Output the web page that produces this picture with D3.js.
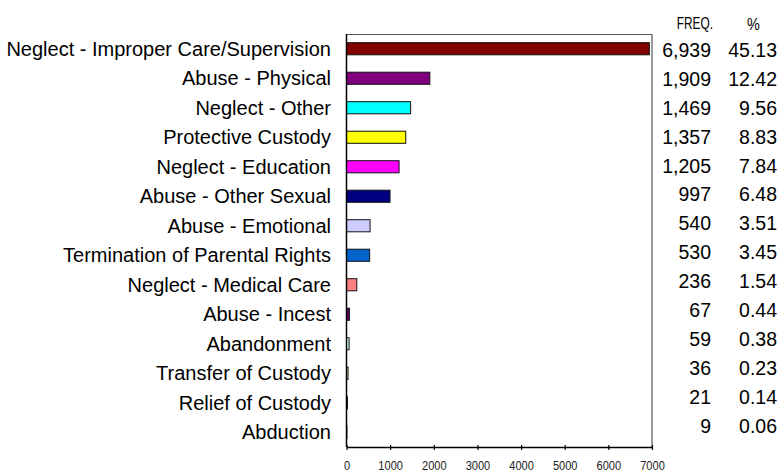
<!DOCTYPE html>
<html>
<head>
<meta charset="utf-8">
<script src="https://cdn.jsdelivr.net/npm/d3@7"></script>
<style>
  html, body { margin: 0; padding: 0; background: #fff; }
  svg { display: block; }
  svg text { font-family: Arial, "Liberation Sans", Arimo, Helvetica, sans-serif; }
</style>
</head>
<body>
<svg id="chart" width="780" height="472"></svg>
<script>
// Reasons for removal, count of children and share of total
const categories = [
  "Neglect - Improper Care/Supervision",
  "Abuse - Physical",
  "Neglect - Other",
  "Protective Custody",
  "Neglect - Education",
  "Abuse - Other Sexual",
  "Abuse - Emotional",
  "Termination of Parental Rights",
  "Neglect - Medical Care",
  "Abuse - Incest",
  "Abandonment",
  "Transfer of Custody",
  "Relief of Custody",
  "Abduction"
];
const frequencies = [6939, 1909, 1469, 1357, 1205, 997, 540, 530, 236, 67, 59, 36, 21, 9];
const percents = [45.13, 12.42, 9.56, 8.83, 7.84, 6.48, 3.51, 3.45, 1.54, 0.44, 0.38, 0.23, 0.14, 0.06];
const barColors = [
  "#800000", "#800080", "#00ffff", "#ffff00", "#ff00ff", "#000080", "#ccccff",
  "#0066cc", "#ff8080", "#660066", "#ccffff", "#ffffcc", "#993366", "#9999ff"
];
const xTicks = [0, 1000, 2000, 3000, 4000, 5000, 6000, 7000];

const FONT = "Arial, 'Liberation Sans', Arimo, Helvetica, sans-serif";
const svg = d3.select("#chart");
const plot = { left: 346.5, right: 652, top: 34, bottom: 447 };

const x = d3.scaleLinear().domain([0, 7000]).range([plot.left, plot.right]);
const y = d3.scaleBand().domain(categories)
  .range([plot.top, plot.bottom])
  .paddingInner(0.59).paddingOuter(0.295);

// frame: top and right edges of the plot area
svg.append("line")
  .attr("x1", plot.left).attr("x2", plot.right)
  .attr("y1", plot.top + 0.5).attr("y2", plot.top + 0.5)
  .attr("stroke", "#555").attr("stroke-width", 1.2);
svg.append("line")
  .attr("x1", plot.right).attr("x2", plot.right)
  .attr("y1", plot.top).attr("y2", plot.bottom)
  .attr("stroke", "#777").attr("stroke-width", 1.5);

// bars
svg.append("g").selectAll("rect")
  .data(categories)
  .join("rect")
  .attr("x", x(0))
  .attr("y", d => y(d))
  .attr("width", (d, i) => x(frequencies[i]) - x(0))
  .attr("height", y.bandwidth())
  .attr("fill", (d, i) => barColors[i])
  .attr("stroke", "#111")
  .attr("stroke-width", 1);

// category axis line
svg.append("line")
  .attr("x1", plot.left).attr("x2", plot.left)
  .attr("y1", plot.top).attr("y2", plot.bottom)
  .attr("stroke", "#000").attr("stroke-width", 1.5);

// category labels
svg.append("g").selectAll("text")
  .data(categories)
  .join("text")
  .attr("x", 331)
  .attr("y", d => y(d) + y.bandwidth() / 2)
  .attr("dy", "0.36em")
  .attr("text-anchor", "end")
  .attr("font-family", FONT)
  .attr("font-size", "20px")
  .attr("fill", "#000")
  .text(d => d);

// value axis at the bottom
const xAxis = d3.axisBottom(x)
  .tickValues(xTicks)
  .tickFormat(d3.format("d"))
  .tickSizeInner(3)
  .tickSizeOuter(0);
const gx = svg.append("g")
  .attr("transform", `translate(0,${plot.bottom})`)
  .call(xAxis);
gx.select(".domain").attr("stroke", "#000").attr("stroke-width", 1.5);
gx.selectAll(".tick line").attr("stroke", "#000").attr("y1", -2).attr("stroke-width", 1.2);
gx.selectAll(".tick text")
  .attr("x", 0).attr("y", 0).attr("dy", 0)
  .attr("font-size", "13.5px")
  .attr("font-family", FONT)
  .attr("fill", "#222")
  .attr("transform", "translate(0,23) scale(0.82,1)");

// table of frequencies and percentages on the right
const row = d3.scalePoint().domain(d3.range(categories.length)).range([50, 425.5]);
const fmtFreq = d3.format(",");
const table = svg.append("g").attr("font-family", FONT);
table.selectAll("text.freq")
  .data(frequencies)
  .join("text")
  .attr("class", "freq")
  .attr("x", 711)
  .attr("y", (d, i) => row(i))
  .attr("dy", "0.36em")
  .attr("text-anchor", "end")
  .attr("font-size", "19.5px")
  .text(d => fmtFreq(d));
table.selectAll("text.pct")
  .data(percents)
  .join("text")
  .attr("class", "pct")
  .attr("x", 777)
  .attr("y", (d, i) => row(i))
  .attr("dy", "0.36em")
  .attr("text-anchor", "end")
  .attr("font-size", "19.5px")
  .text(d => d.toFixed(2));

// column headers
svg.append("text")
  .attr("transform", "translate(713,29) scale(0.74,1)")
  .attr("text-anchor", "end")
  .attr("font-family", FONT)
  .attr("font-size", "16px")
  .text("FREQ.");
svg.append("text")
  .attr("transform", "translate(753.5,30) scale(0.85,1)")
  .attr("text-anchor", "middle")
  .attr("font-family", FONT)
  .attr("font-size", "17px")
  .text("%");
</script>
</body>
</html>
